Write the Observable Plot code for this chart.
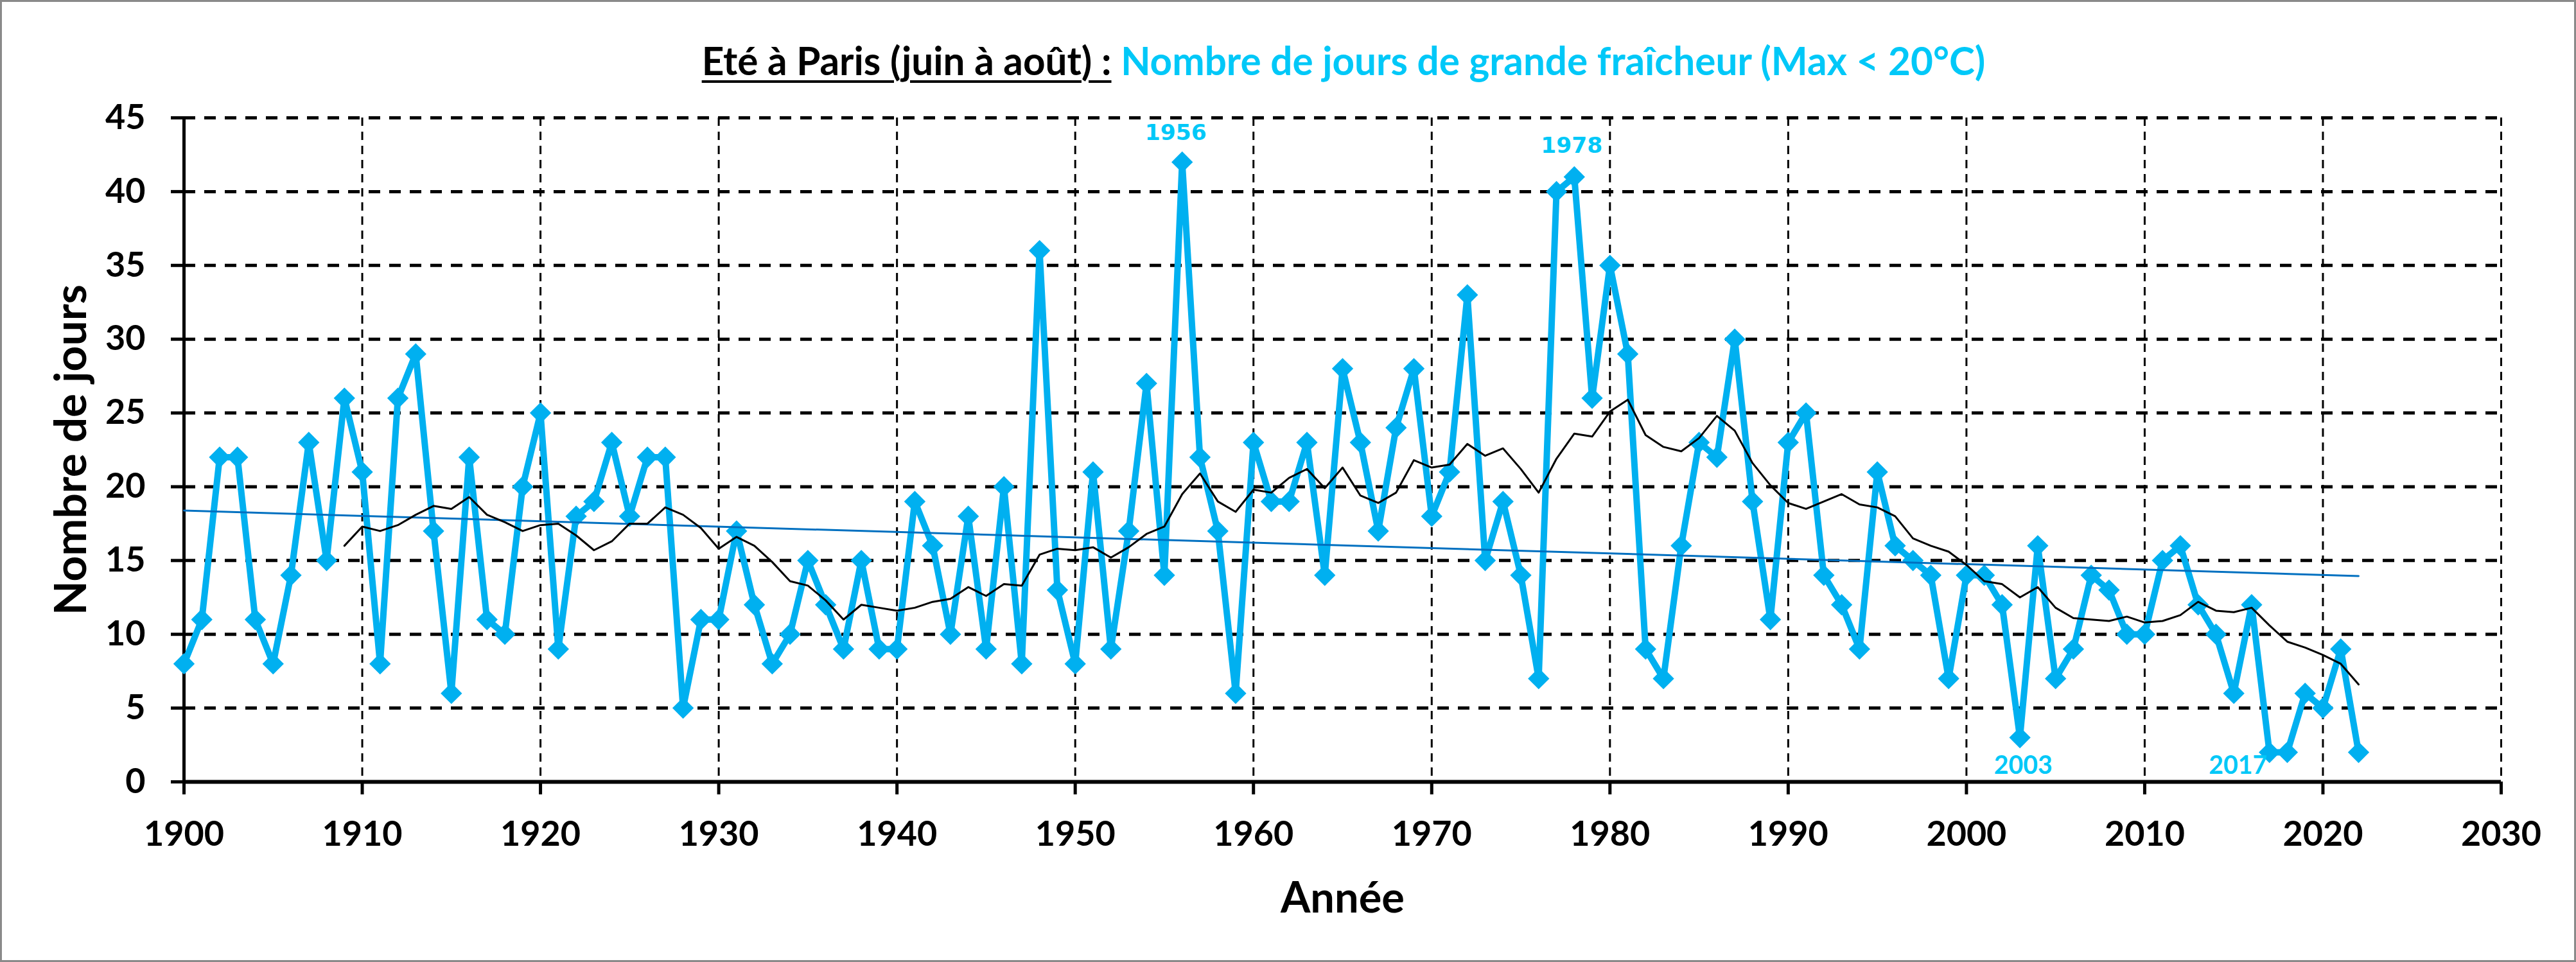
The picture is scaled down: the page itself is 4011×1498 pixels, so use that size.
<!DOCTYPE html>
<html><head><meta charset="utf-8">
<script src="https://cdn.jsdelivr.net/npm/d3@7"></script>
<script src="https://cdn.jsdelivr.net/npm/@observablehq/plot@0.6"></script>
<style>
html,body{margin:0;padding:0;background:#fff;}
#wrap{position:relative;width:4011px;height:1498px;overflow:hidden;background:#fff;}
#head{position:relative;width:4011px;height:150px;}
#title{position:absolute;white-space:nowrap;font-family:Lato;font-weight:700;line-height:1;color:#000;}
#title .u{text-decoration:underline;text-decoration-thickness:4px;text-underline-offset:8px;}
#title .c{color:#00C8F8;}
#border{position:absolute;left:0;top:0;width:4011px;height:1498px;box-sizing:border-box;border:3px solid #8a8a8a;pointer-events:none;}
</style></head><body>
<div id="wrap">
  <div id="head"><div id="title"><span class="u">Eté à Paris (juin à août) :</span><span class="c"> Nombre de jours de grande fraîcheur (Max &lt; 20°C)</span></div></div>
  <div id="chart"></div>
  <div id="border"></div>
</div>
<script>
// ---- data ----
const startYear = 1900;
const jours = [
  8, 11, 22, 22, 11, 8, 14, 23, 15, 26,      // 1900-1909
  21, 8, 26, 29, 17, 6, 22, 11, 10, 20,      // 1910-1919
  25, 9, 18, 19, 23, 18, 22, 22, 5, 11,      // 1920-1929
  11, 17, 12, 8, 10, 15, 12, 9, 15, 9,       // 1930-1939
  9, 19, 16, 10, 18, 9, 20, 8, 36, 13,       // 1940-1949
  8, 21, 9, 17, 27, 14, 42, 22, 17, 6,       // 1950-1959
  23, 19, 19, 23, 14, 28, 23, 17, 24, 28,    // 1960-1969
  18, 21, 33, 15, 19, 14, 7, 40, 41, 26,     // 1970-1979
  35, 29, 9, 7, 16, 23, 22, 30, 19, 11,      // 1980-1989
  23, 25, 14, 12, 9, 21, 16, 15, 14, 7,      // 1990-1999
  14, 14, 12, 3, 16, 7, 9, 14, 13, 10,       // 2000-2009
  10, 15, 16, 12, 10, 6, 12, 2, 2, 6,        // 2010-2019
  5, 9, 2                                    // 2020-2022
];
const xTicks = [1900, 1910, 1920, 1930, 1940, 1950, 1960, 1970, 1980, 1990, 2000, 2010, 2020, 2030];
const yTicks = [0, 5, 10, 15, 20, 25, 30, 35, 40, 45];
const annotYears = [1956, 1978, 2003, 2017];
const annotLabels = ["1956", "1978", "2003", "2017"];
const annotValues = [44.0, 43.1, 1.1, 1.1];

const data = jours.map((v, i) => ({year: startYear + i, value: v}));
const annots = annotYears.map((y, i) => ({year: y, label: annotLabels[i], pos: annotValues[i]}));

// ---- font fitting ----
const ctx = document.createElement("canvas").getContext("2d");
function fit(text, family, target) {
  ctx.font = `700 100px ${family}`;
  return 100 * target / ctx.measureText(text).width;
}
const titleText = "Eté à Paris (juin à août) : Nombre de jours de grande fraîcheur (Max < 20°C)";
const titleFs = fit(titleText, "Lato", 2000);
const tickFs = fit("1900", "Lato", 125);
const yTitleFs = fit("Nombre de jours", "Lato", 515);
const xTitleFs = fit("Année", "Lato", 193);
const annotFs1 = fit("1956", '"DejaVu Sans"', 96);
const annotFs2 = fit("2003", "Lato", 91);

const title = document.getElementById("title");
title.style.fontSize = titleFs + "px";
title.style.left = "2092px";
title.style.transform = "translateX(-50%)";
title.style.top = (117 - 0.887 * titleFs) + "px";

const cyan = "#00C8F8";
const annotDx = [-10, -4, 5, -49];
const annotFamily = ["DejaVu Sans", "DejaVu Sans", "Lato", "Lato"];
const annotSize = [annotFs1, annotFs1, annotFs2, annotFs2];

const chart = Plot.plot({
  width: 4011,
  height: 1348,
  marginLeft: 286,
  marginRight: 117,
  marginTop: 33,
  marginBottom: 281,
  x: {domain: [1900, 2030]},
  y: {domain: [0, 45]},
  style: {fontFamily: "Lato", background: "#fff", overflow: "visible"},
  marks: [
    Plot.ruleX(xTicks.slice(1), {stroke: "#000", strokeWidth: 3, strokeDasharray: "13,9"}),
    Plot.ruleY(yTicks.slice(1), {stroke: "#000", strokeWidth: 5, strokeDasharray: "18,14"}),
    Plot.axisY({ticks: yTicks, tickSize: 20, tickPadding: 40, fontSize: tickFs, fontWeight: 700,
      strokeWidth: 5, tickFormat: d => String(d), label: null}),
    Plot.axisX({ticks: xTicks, tickSize: 20, tickPadding: 41, fontSize: tickFs, fontWeight: 700,
      strokeWidth: 5, tickFormat: d => String(d), label: null}),
    Plot.ruleX([1900], {stroke: "#000", strokeWidth: 5}),
    Plot.ruleY([0], {stroke: "#000", strokeWidth: 6}),
    Plot.line(data, {x: "year", y: "value", stroke: "#00B0F0", strokeWidth: 10}),
    Plot.dot(data, {x: "year", y: "value", symbol: "diamond2", r: 15, fill: "#00B0F0"}),
    Plot.linearRegressionY(data, {x: "year", y: "value", stroke: "#0070C0", strokeWidth: 3, ci: 0}),
    Plot.lineY(data, Plot.windowY({k: 10, anchor: "end", strict: true},
      {x: "year", y: "value", stroke: "#000", strokeWidth: 3})),
    ...annots.map((a, i) => Plot.text([a], {x: "year", y: "pos", text: "label", dx: annotDx[i],
      fill: cyan, fontFamily: annotFamily[i], fontSize: annotSize[i], fontWeight: 700})),
    Plot.text(["Nombre de jours"], {text: d => d, frameAnchor: "left", textAnchor: "middle",
      lineAnchor: "middle", dx: -175, rotate: -90,
      fontSize: yTitleFs, fontWeight: 700, fill: "#000"}),
    Plot.text(["Année"], {text: d => d, frameAnchor: "bottom", lineAnchor: "top", dy: 156,
      fontSize: xTitleFs, fontWeight: 700, fill: "#000"})
  ]
});
document.getElementById("chart").appendChild(chart);
</script>
</body></html>
